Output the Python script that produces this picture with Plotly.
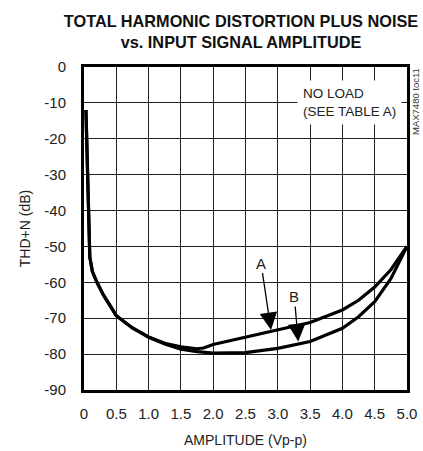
import plotly.graph_objects as go

# ---- data ----
amp_a = [0.03, 0.09, 0.13, 0.2, 0.3, 0.4, 0.5, 0.75, 1.0, 1.25, 1.5, 1.75, 1.85, 2.0,
         2.5, 3.0, 3.5, 4.0, 4.25, 4.5, 4.75, 5.0]
thd_a = [-12, -53, -57, -60, -63.5, -66.5, -69.3, -72.7, -75.2, -77, -78, -78.5, -78.3, -77.3,
         -75.2, -73.2, -71.2, -67.7, -65, -61.3, -56.5, -50]

amp_b = [0.03, 0.09, 0.13, 0.2, 0.3, 0.4, 0.5, 0.75, 1.0, 1.25, 1.5, 1.75, 2.0,
         2.5, 3.0, 3.5, 4.0, 4.25, 4.5, 4.75, 5.0]
thd_b = [-12, -53, -57, -60, -63.5, -66.5, -69.3, -72.7, -75.3, -77.2, -78.6, -79.3, -79.7,
         -79.6, -78.4, -76.5, -72.8, -69.6, -65.4, -59, -50]

x_tick_vals = [0, 0.5, 1.0, 1.5, 2.0, 2.5, 3.0, 3.5, 4.0, 4.5, 5.0]
x_tick_labels = ["0", "0.5", "1.0", "1.5", "2.0", "2.5", "3.0", "3.5", "4.0", "4.5", "5.0"]
y_tick_vals = [0, -10, -20, -30, -40, -50, -60, -70, -80, -90]
y_tick_labels = ["0", "-10", "-20", "-30", "-40", "-50", "-60", "-70", "-80", "-90"]

# annotation anchors (data coords of the arrow tips)
label_a = ("A", 2.895, -73.3)
label_b = ("B", 3.317, -76.5)

FONT = "Liberation Sans, Arial, Helvetica, sans-serif"

W, H = 423, 451
ML, MR, MT, MB = 84, 16, 67, 61

fig = go.Figure()
fig.add_trace(go.Scatter(x=amp_b, y=thd_b, mode="lines", name="B",
                         line=dict(color="black", width=3.2)))
fig.add_trace(go.Scatter(x=amp_a, y=thd_a, mode="lines", name="A",
                         line=dict(color="black", width=3.2)))

fig.update_layout(
    width=W, height=H,
    margin=dict(l=ML, r=MR, t=MT, b=MB, autoexpand=False),
    paper_bgcolor="white", plot_bgcolor="white",
    showlegend=False,
    font=dict(family=FONT, size=15, color="#222"),
    title=dict(
        text="<b>TOTAL HARMONIC DISTORTION PLUS NOISE<br>vs. INPUT SIGNAL AMPLITUDE</b>",
        x=241 / W, xanchor="center", xref="container",
        y=1 - 27 / H, yanchor="middle", yref="container",
        font=dict(family=FONT, size=16.3, color="#111"),
    ),
)

fig.update_xaxes(
    range=[0, 5], tickvals=x_tick_vals, ticktext=x_tick_labels,
    showgrid=True, gridcolor="#222", gridwidth=1,
    showline=True, linecolor="black", linewidth=3, mirror=True,
    ticks="", ticklabelstandoff=8, zeroline=False, automargin=False,
    tickfont=dict(size=15),
    title=dict(text="AMPLITUDE (Vp-p)", standoff=15, font=dict(size=14)),
)
fig.update_yaxes(
    range=[-90, 0], tickvals=y_tick_vals, ticktext=y_tick_labels,
    showgrid=True, gridcolor="#222", gridwidth=1,
    showline=True, linecolor="black", linewidth=3, mirror=True,
    ticks="", ticklabelstandoff=12, zeroline=False, automargin=False,
    tickfont=dict(size=15),
    title=dict(text="THD+N (dB)", standoff=11, font=dict(size=14)),
)

for txt, xv, yv, ax, ay in [(label_a[0], label_a[1], label_a[2], -10, -67),
                            (label_b[0], label_b[1], label_b[2], -4, -45)]:
    fig.add_annotation(x=xv, y=yv, xref="x", yref="y", text=txt,
                       showarrow=True, ax=ax, ay=ay, arrowhead=2, arrowsize=2.7,
                       arrowwidth=1.3, arrowcolor="black", standoff=0,
                       font=dict(family=FONT, size=15, color="#222"))

fig.add_annotation(x=3.30, y=-10.0, xref="x", yref="y", xanchor="left", yanchor="middle",
                   text="NO LOAD<br>(SEE TABLE A)", align="left", showarrow=False,
                   bgcolor="white", borderpad=5,
                   font=dict(family=FONT, size=13.5, color="#222"))

fig.add_annotation(x=(415 - ML) / (W - ML - MR), y=1 - (102 - MT) / (H - MT - MB),
                   xref="paper", yref="paper", xanchor="center", yanchor="middle",
                   text="MAX7480 toc11", showarrow=False, textangle=-90,
                   font=dict(family=FONT, size=9.5, color="#333"))

fig.write_html("out.html", config={"displayModeBar": False},
               post_script="document.body.style.margin='0';document.body.style.overflow='hidden';")
